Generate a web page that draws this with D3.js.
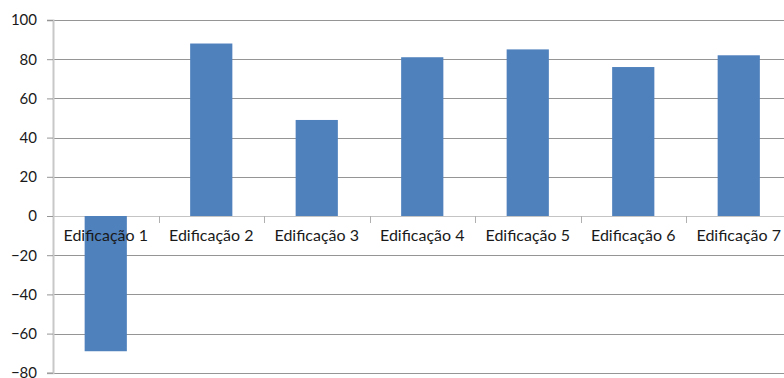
<!DOCTYPE html>
<html>
<head>
<meta charset="utf-8">
<script src="https://cdn.jsdelivr.net/npm/d3@7/dist/d3.min.js"></script>
<style>
  html, body { margin: 0; padding: 0; background: #fff; overflow: hidden; }
  svg { display: block; }
  text { font-family: Lato, "Open Sans", sans-serif; fill: #1a1a1a; }
</style>
</head>
<body>
<script>
// Building index per site
const categories = ["Edificação 1", "Edificação 2", "Edificação 3", "Edificação 4",
                    "Edificação 5", "Edificação 6", "Edificação 7"];
const values = [-69, 88, 49, 81, 85, 76, 82];
const yTicks = [-80, -60, -40, -20, 0, 20, 40, 60, 80, 100];

const W = 784, H = 378;
const plotLeft = 53, plotRight = 791.5, yTop = 20, yBottom = 372.8;

const svg = d3.select("body").append("svg")
  .attr("width", W).attr("height", H);

const x = d3.scaleBand()
  .domain(categories)
  .range([plotLeft, plotRight])
  .paddingInner(0.6)
  .paddingOuter(0.3);

const y = d3.scaleLinear()
  .domain([-80, 100])
  .range([yBottom, yTop]);

// Horizontal gridlines
svg.append("g")
  .selectAll("line")
  .data(yTicks)
  .join("line")
  .attr("x1", plotLeft).attr("x2", W)
  .attr("y1", d => Math.round(y(d)) + 0.5)
  .attr("y2", d => Math.round(y(d)) + 0.5)
  .attr("stroke", d => d === 0 ? "#c4c4c4" : "#959595")
  .attr("stroke-width", 1);

// Bars
svg.append("g")
  .selectAll("rect")
  .data(values)
  .join("rect")
  .attr("x", (d, i) => x(categories[i]))
  .attr("width", x.bandwidth())
  .attr("y", d => y(Math.max(0, d)))
  .attr("height", d => Math.abs(y(d) - y(0)))
  .attr("fill", "#4f81bd");

// Y axis
const yAxis = d3.axisLeft(y).tickValues(yTicks).tickSize(6).tickPadding(10);
const gy = svg.append("g")
  .attr("transform", `translate(${plotLeft},0)`)
  .call(yAxis);
gy.select(".domain").attr("stroke", "#c8c8c8").attr("stroke-width", 2);
gy.selectAll(".tick line").attr("stroke", "#959595");
gy.selectAll(".tick text")
  .attr("font-size", 15)
  .attr("font-family", "Lato, sans-serif")
  .attr("fill", "#1a1a1a");

// Category axis along zero line
const xAxis = d3.axisBottom(x).tickSize(0).tickPadding(14);
const gx = svg.append("g")
  .attr("transform", `translate(0,${Math.round(y(0))})`)
  .call(xAxis);
gx.select(".domain").remove();
gx.selectAll(".tick text")
  .attr("font-size", 16)
  .attr("font-family", "Lato, sans-serif")
  .attr("fill", "#1a1a1a");

// Category boundary tick marks
const bounds = d3.range(categories.length + 1).map(i => plotLeft + i * x.step());
svg.append("g")
  .selectAll("line")
  .data(bounds.slice(1))
  .join("line")
  .attr("x1", d => Math.round(d) + 0.5).attr("x2", d => Math.round(d) + 0.5)
  .attr("y1", Math.round(y(0))).attr("y2", Math.round(y(0)) + 7)
  .attr("stroke", "#b0b0b0");
</script>
</body>
</html>
